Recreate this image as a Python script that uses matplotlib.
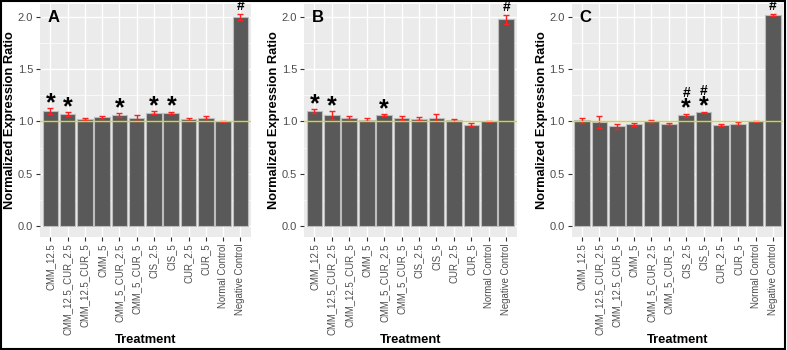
import numpy as np
import matplotlib.pyplot as plt
from matplotlib.patches import Rectangle

plt.rcParams['font.family'] = ['Liberation Sans', 'DejaVu Sans']

treatments = ['CMM_12.5', 'CMM_12.5_CUR_2.5', 'CMM_12.5_CUR_5', 'CMM_5',
              'CMM_5_CUR_2.5', 'CMM_5_CUR_5', 'CIS_2.5', 'CIS_5',
              'CUR_2.5', 'CUR_5', 'Normal Control', 'Negative Control']

vals_a = [1.10, 1.07, 1.02, 1.04, 1.06, 1.03, 1.085, 1.085, 1.02, 1.035, 1.00, 2.00]
err_a = [0.03, 0.02, 0.01, 0.015, 0.02, 0.03, 0.015, 0.01, 0.015, 0.015, 0.004, 0.03]
star_a = [0, 1, 4, 6, 7]
hash_a = [11]

vals_b = [1.10, 1.06, 1.035, 1.015, 1.06, 1.035, 1.025, 1.035, 1.01, 0.97, 1.00, 1.98]
err_b = [0.02, 0.04, 0.015, 0.015, 0.01, 0.02, 0.015, 0.035, 0.01, 0.015, 0.003, 0.045]
star_b = [0, 1, 4]
hash_b = [11]

vals_c = [1.01, 0.995, 0.955, 0.975, 1.00, 0.975, 1.06, 1.09, 0.97, 0.98, 1.00, 2.02]
err_c = [0.025, 0.055, 0.025, 0.015, 0.01, 0.01, 0.015, 0.005, 0.01, 0.015, 0.003, 0.01]
star_c = [6, 7]
hash_c = [6, 7, 11]

panels = [('A', vals_a, err_a, star_a, hash_a, 0.0508, 0.3186),
          ('B', vals_b, err_b, star_b, hash_b, 0.3863, 0.6565),
          ('C', vals_c, err_c, star_c, hash_c, 0.7264, 0.9953)]

fig = plt.figure(figsize=(7.87, 3.5), dpi=100)
fig.patches.append(Rectangle((0.001, 0.004), 0.997, 0.993, transform=fig.transFigure,
                             fill=False, edgecolor='black', linewidth=1.5))

for letter, vals, errs, stars, hashes, left, right in panels:
    ax = fig.add_axes([left, 0.3237, right - left, 0.9886 - 0.3237])
    ax.set_facecolor('#EBEBEB')
    x = np.arange(len(treatments))
    ax.bar(x, vals, width=0.9, color='#595959', edgecolor='#BDBDBD', linewidth=0.8, zorder=2)
    ax.errorbar(x, vals, yerr=errs, fmt='none', ecolor='#FF2020', elinewidth=1.0,
                capsize=2.5, capthick=1.0, zorder=3)
    ax.axhline(1.0, color='#D4D43C', linewidth=1.0, zorder=4)
    for i in stars:
        ax.text(x[i], vals[i] + errs[i] - 0.02, '*', ha='center', va='baseline',
                fontsize=18, fontweight='bold', zorder=5)
    for i in hashes:
        off = 0.16 if i in stars else 0.035
        ax.text(x[i], vals[i] + errs[i] + off, '#', ha='center', va='baseline',
                fontsize=10, fontweight='bold', zorder=5)
    ax.text(-0.15, 2.0, letter, ha='left', va='center', fontsize=12, fontweight='bold')
    ax.set_xlim(-0.6, len(treatments) - 0.4)
    ax.set_ylim(-0.105, 2.127)
    ax.set_yticks([0.0, 0.5, 1.0, 1.5, 2.0])
    ax.set_yticklabels(['0.0', '0.5', '1.0', '1.5', '2.0'])
    ax.set_yticks([0.25, 0.75, 1.25, 1.75], minor=True)
    ax.set_xticks(x)
    ax.set_xticklabels(treatments, rotation=90, fontsize=6.9, color='#4D4D4D')
    ax.tick_params(axis='y', labelsize=8, labelcolor='#4D4D4D', color='#333333', length=3, pad=2)
    ax.tick_params(axis='x', color='#333333', length=3, pad=2)
    ax.tick_params(which='minor', length=0)
    ax.grid(True, which='major', color='white', linewidth=1.0, zorder=0)
    ax.grid(True, which='minor', color='white', linewidth=0.5, zorder=0)
    ax.set_axisbelow(True)
    for s in ax.spines.values():
        s.set_visible(False)
    ax.set_ylabel('Normalized Expression Ratio', fontsize=9.3, fontweight='bold', va='center')
    ax.yaxis.set_label_coords(-0.14, 0.5)
    ax.set_xlabel('Treatment', fontsize=9.3, fontweight='bold', va='center')
    ax.xaxis.set_label_coords(0.5, -0.445)

fig.savefig('out.png', dpi=100)
